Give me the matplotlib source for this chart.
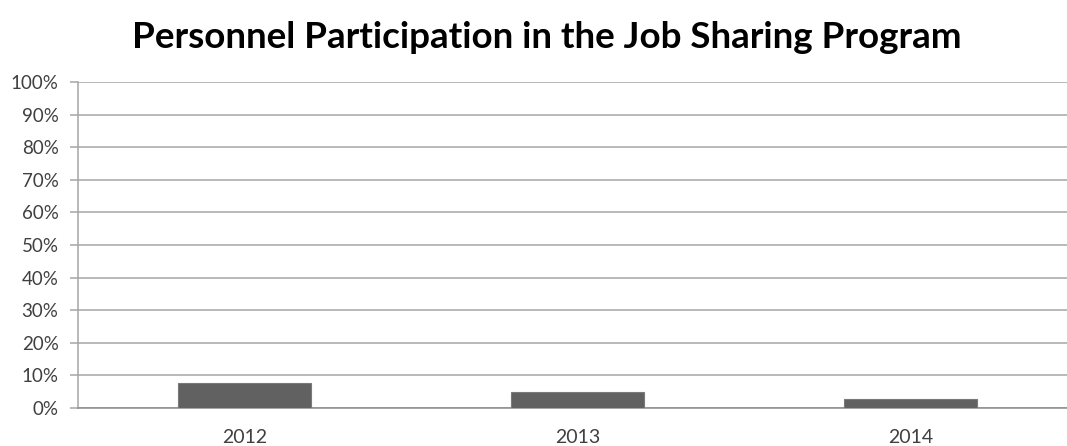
import matplotlib.pyplot as plt
from matplotlib.ticker import PercentFormatter

years = ['2012', '2013', '2014']
participation = [7.8, 4.9, 2.8]
y_ticks = [0, 10, 20, 30, 40, 50, 60, 70, 80, 90, 100]

fig = plt.figure(figsize=(10.67, 4.46), dpi=100)
# plot area runs off the right edge, like the original sheet
ax = fig.add_axes([78 / 1067, (446 - 408) / 446, 1000 / 1067, 326 / 446])

x = range(len(years))
ax.bar(x, participation, width=0.4, color='#616161', edgecolor='#7a7a7a', linewidth=0.8, zorder=3)

ax.set_xlim(-0.5, -0.5 + 1000 / 333)
ax.set_ylim(0, 100)
ax.set_yticks(y_ticks)
ax.yaxis.set_major_formatter(PercentFormatter(decimals=0))
ax.set_xticks(list(x))
ax.set_xticklabels(years)

ax.grid(axis='y', color='#a6a6a6', linewidth=1.1, zorder=0)
for side in ['top', 'right']:
    ax.spines[side].set_visible(False)
ax.spines['left'].set_color('#a6a6a6')
ax.spines['bottom'].set_color('#8c8c8c')
ax.spines['left'].set_linewidth(1.1)
ax.spines['bottom'].set_linewidth(1.1)

ax.tick_params(axis='y', length=6, color='#a6a6a6', width=1.1, pad=8,
               labelsize=13.5, labelcolor='#404040')
ax.tick_params(axis='x', length=0, pad=15, labelsize=14, labelcolor='#404040')
for lab in ax.get_xticklabels() + ax.get_yticklabels():
    lab.set_family('Lato')

fig.text(547 / 1067, 1 - 37 / 446, 'Personnel Participation in the Job Sharing Program',
         ha='center', va='center', fontsize=26.5, fontweight='bold', family='Lato')

fig.savefig('out.png', dpi=100)
